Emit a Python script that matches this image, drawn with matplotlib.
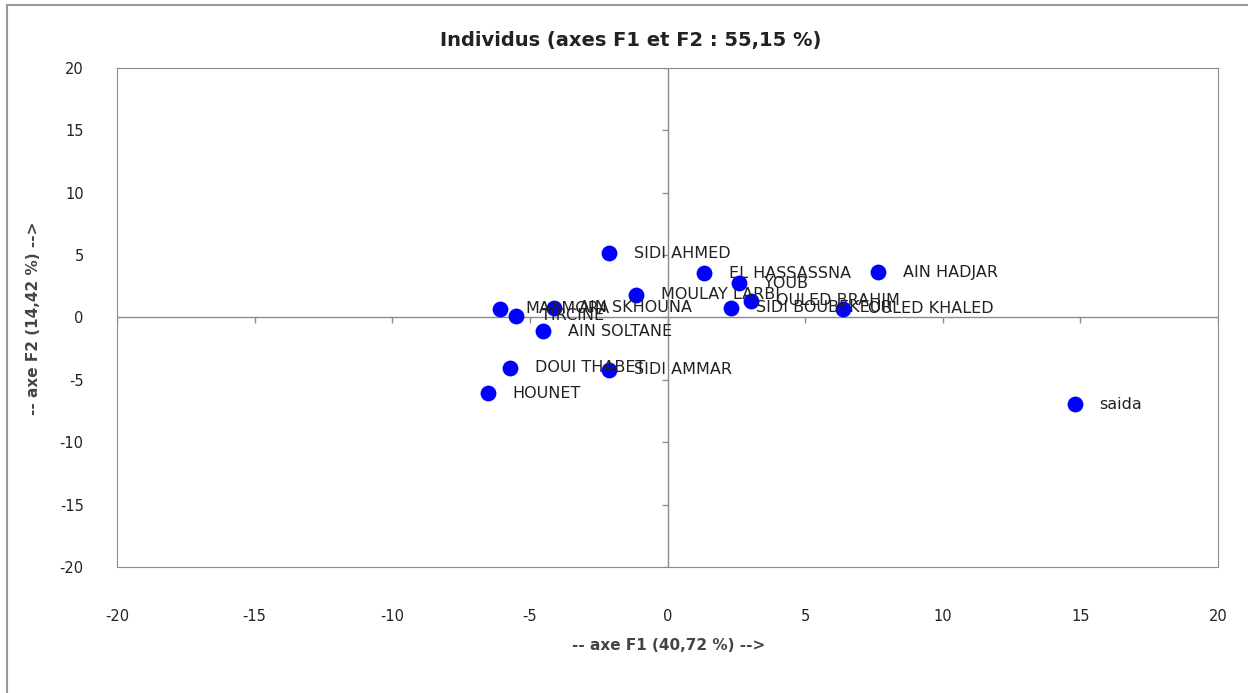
import numpy as np
import matplotlib.pyplot as plt
from matplotlib.patches import Rectangle

plt.rcParams['axes.unicode_minus'] = False

names = ['SIDI AHMED', 'EL HASSASSNA', 'AIN HADJAR', 'YOUB', 'MOULAY LARBI',
         'OULED BRAHIM', 'SIDI BOUBEKEUR', 'OULED KHALED', 'MAAMORA',
         'AIN SKHOUNA', 'TIRCINE', 'AIN SOLTANE', 'DOUI THABET', 'SIDI AMMAR',
         'HOUNET', 'saida']
f1 = [-2.14, 1.31, 7.63, 2.58, -1.16, 3.02, 2.29, 6.39, -6.07,
      -4.14, -5.49, -4.54, -5.74, -2.11, -6.54, 14.79]
f2 = [5.13, 3.53, 3.61, 2.73, 1.84, 1.36, 0.80, 0.72, 0.72,
      0.80, 0.16, -1.12, -4.01, -4.17, -6.09, -6.97]
ticks = np.arange(-20, 21, 5)

fig = plt.figure(figsize=(12.48, 6.93), dpi=100)
ax = fig.add_axes([0.0938, 0.1818, 0.8822, 0.7201])

ax.axhline(0, color='#8c8c8c', lw=1, zorder=1)
ax.axvline(0, color='#8c8c8c', lw=1, zorder=1)
# small tick marks on the zero lines, like excel
ax.plot(ticks, np.zeros(len(ticks)), ls='none', marker=3, ms=4, color='#8c8c8c', zorder=1)
ax.plot(np.zeros(len(ticks)), ticks, ls='none', marker=0, ms=4, color='#8c8c8c', zorder=1)

ax.scatter(f1, f2, s=130, color='#0000ff', zorder=3, linewidths=0)
for n, x, y in zip(names, f1, f2):
    ax.annotate(n, (x, y), xytext=(18, 0), textcoords='offset points',
                ha='left', va='center', fontsize=11.5, color='#222222', zorder=4)

ax.set_xlim(-20, 20)
ax.set_ylim(-20, 20)
ax.set_xticks(ticks)
ax.set_yticks(ticks)
ax.tick_params(length=0, labelsize=10.5, colors='#222222')
ax.tick_params(axis='x', pad=30)
ax.tick_params(axis='y', pad=24)
for s in ax.spines.values():
    s.set_color('#8c8c8c')

fig.text(0.505, 0.942, 'Individus (axes F1 et F2 : 55,15 %)', ha='center', va='center',
         fontsize=14, fontweight='bold', color='#222222')
fig.text(0.536, 0.069, '-- axe F1 (40,72 %) -->', ha='center', va='center',
         fontsize=11, fontweight='bold', color='#444444')
fig.text(0.027, 0.54, '-- axe F2 (14,42 %) -->', ha='center', va='center',
         rotation=90, fontsize=11, fontweight='bold', color='#444444')

fig.patches.append(Rectangle((0.006, -0.01), 0.995, 1.003, transform=fig.transFigure,
                             fill=False, ec='#999999', lw=1.5))

fig.savefig('out.png', dpi=100)
